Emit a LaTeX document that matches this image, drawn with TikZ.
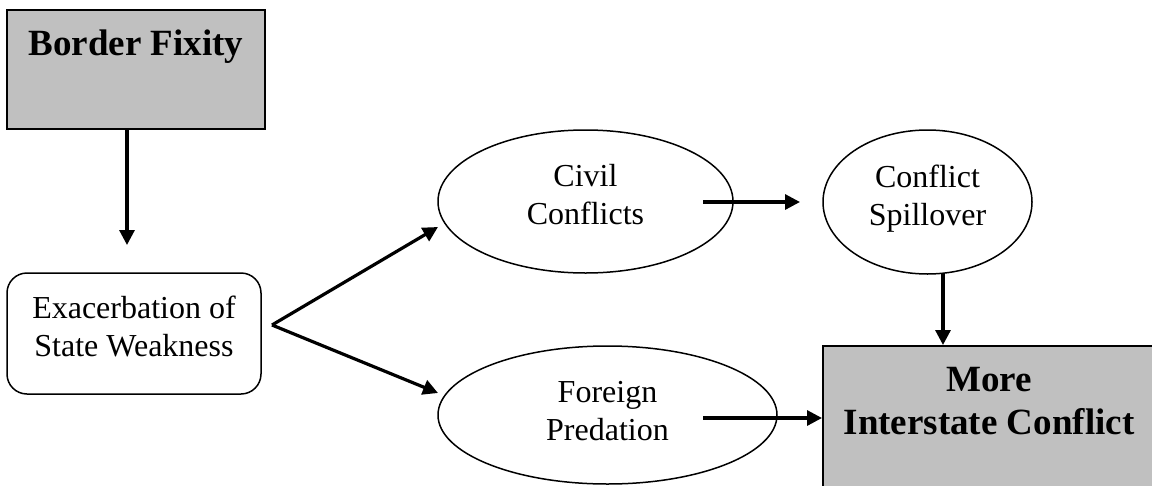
\documentclass[tikz,border=0pt]{standalone}
\usepackage{fontspec}
\setmainfont{Liberation Serif}
\usetikzlibrary{arrows.meta,shapes.geometric}
\definecolor{boxgray}{RGB}{192,192,192}
\begin{document}
\begin{tikzpicture}[x=1pt,y=-1pt,
  arr/.style={line width=3.2pt,-{Triangle[length=15pt,width=15pt]}},
  graybox/.style={draw,line width=2pt,fill=boxgray,rectangle,inner sep=0pt},
  roundbox/.style={draw,line width=1.5pt,rectangle,rounded corners=20pt,inner sep=0pt},
  oval/.style={draw,line width=1.5pt,ellipse,inner sep=0pt},
  regtext/.style={font=\fontsize{32}{38}\selectfont,align=center,inner sep=0pt},
  boldtext/.style={font=\bfseries\fontsize{37}{43}\selectfont,align=center,inner sep=0pt}]
\clip (0,0) rectangle (1152,485);
\fill[white] (0,0) rectangle (1152,485);

% nodes
\node[graybox,minimum width=258pt,minimum height=119pt,
  label={[boldtext,yshift=23pt]center:{Border Fixity}}] (bf) at (136,69.5) {};
\node[roundbox,minimum width=254pt,minimum height=121pt,
  label={[regtext,yshift=7.5pt]center:{Exacerbation of\\State Weakness}}] (ex) at (134,333.5) {};
\node[oval,minimum width=295pt,minimum height=143pt,
  label={[regtext,yshift=7pt]center:{Civil\\Conflicts}}] (cc) at (585.5,201.5) {};
\node[oval,minimum width=209pt,minimum height=144pt,
  label={[regtext,yshift=3.5pt]center:{Conflict\\Spillover}}] (cs) at (927.5,202) {};
\node[oval,minimum width=339pt,minimum height=138pt,
  label={[regtext,yshift=4pt]center:{Foreign\\Predation}}] (fp) at (607.5,415) {};
\node[graybox,minimum width=332pt,minimum height=154pt,
  label={[boldtext,yshift=22pt]center:{More\\Interstate Conflict}}] (mic) at (989,423) {};

% connector end points
\coordinate (t1) at (127,245);
\coordinate (br) at (272,325);
\coordinate (t2) at (438,227);
\coordinate (t3) at (438,393);
\coordinate (s4) at (703,202);
\coordinate (t4) at (800,202);
\coordinate (s5) at (943,274);
\coordinate (s6) at (703,418);

% connectors
\draw[arr] (bf.south -| t1) -- (t1);
\draw[arr] (br) -- (t2);
\draw[arr] (br) -- (t3);
\draw[arr] (s4) -- (t4);
\draw[arr] (s5) -- (s5 |- mic.north);
\draw[arr] (s6) -- (s6 -| mic.west);
\end{tikzpicture}
\end{document}
